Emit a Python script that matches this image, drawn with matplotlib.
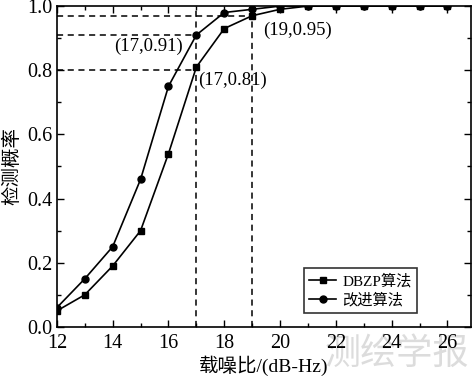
import numpy as np
import matplotlib
matplotlib.use('Agg')
import matplotlib.pyplot as plt
from matplotlib.ticker import MultipleLocator

plt.rcParams['font.family'] = ['Liberation Serif', 'Noto Sans CJK SC']
plt.rcParams['mathtext.fontset'] = 'stix'

cnr = [12, 13, 14, 15, 16, 17, 18, 19, 20, 21, 22, 23, 24, 25, 26]
pd_dbzp = [0.05, 0.10, 0.19, 0.30, 0.54, 0.81, 0.93, 0.97, 0.99, 1.0, 1.0, 1.0, 1.0, 1.0, 1.0]
pd_new = [0.06, 0.15, 0.25, 0.46, 0.75, 0.91, 0.98, 0.99, 1.0, 1.0, 1.0, 1.0, 1.0, 1.0, 1.0]

labels = ['DBZP算法', '改进算法']

# reference lines: (x, y) points marked with dashes
ref_x = [17, 17, 19]
ref_y = [0.80, 0.91, 0.97]
notes = ['(17,0.81)', '(17,0.91)', '(19,0.95)']
note_pos = [(17.05, 0.77), (14.05, 0.873), (19.4, 0.925)]

fig = plt.figure(figsize=(4.74, 3.81), dpi=100)
ax = fig.add_axes([0.120, 0.142, 0.874, 0.842])

for x, y in zip(ref_x, ref_y):
    ax.plot([12, x], [y, y], 'k--', lw=1.1, dashes=(4, 3))
for x in sorted(set(ref_x)):
    ax.plot([x, x], [0, 1.0], 'k--', lw=1.1, dashes=(4, 3))

ax.plot(cnr, pd_dbzp, 'k-', marker='s', ms=4.5, lw=1.2, label=labels[0])
ax.plot(cnr, pd_new, 'k-', marker='o', ms=5, lw=1.2, label=labels[1])

for t, (tx, ty) in zip(notes, note_pos):
    ax.text(tx, ty, t, fontsize=13.5, va='center', ha='left')

ax.set_xlim(12, 26.85)
ax.set_ylim(0, 1.0)
ax.xaxis.set_major_locator(MultipleLocator(2))
ax.xaxis.set_minor_locator(MultipleLocator(1))
ax.yaxis.set_major_locator(MultipleLocator(0.2))
ax.yaxis.set_minor_locator(MultipleLocator(0.1))
ax.yaxis.set_major_formatter(matplotlib.ticker.FormatStrFormatter('%.1f'))
ax.tick_params(which='both', direction='in', top=True, right=True, labelsize=14.5, width=1.0)
ax.tick_params(which='major', length=5)
ax.tick_params(which='minor', length=3)
ax.tick_params(axis='x', pad=5)
for s in ax.spines.values():
    s.set_linewidth(1.2)

ax.set_xlabel('载噪比/(dB-Hz)', fontsize=14, labelpad=2)
ax.set_ylabel('检测概率', fontsize=14, labelpad=4)

leg = ax.legend(loc='lower right', bbox_to_anchor=(0.87, 0.044), borderaxespad=0, fontsize=11,
                frameon=True, fancybox=False, edgecolor='k', handlelength=1.8, handletextpad=0.4,
                borderpad=0.35, labelspacing=0.3)
leg.get_frame().set_linewidth(1.2)

# light watermark sits under the tick labels
fig.text(0.99, 0.025, '测绘学报', fontsize=26, color='#dcdcdc', ha='right', va='bottom',
         family=['Noto Sans CJK SC'], zorder=-1)

fig.savefig('out.png', dpi=100)
